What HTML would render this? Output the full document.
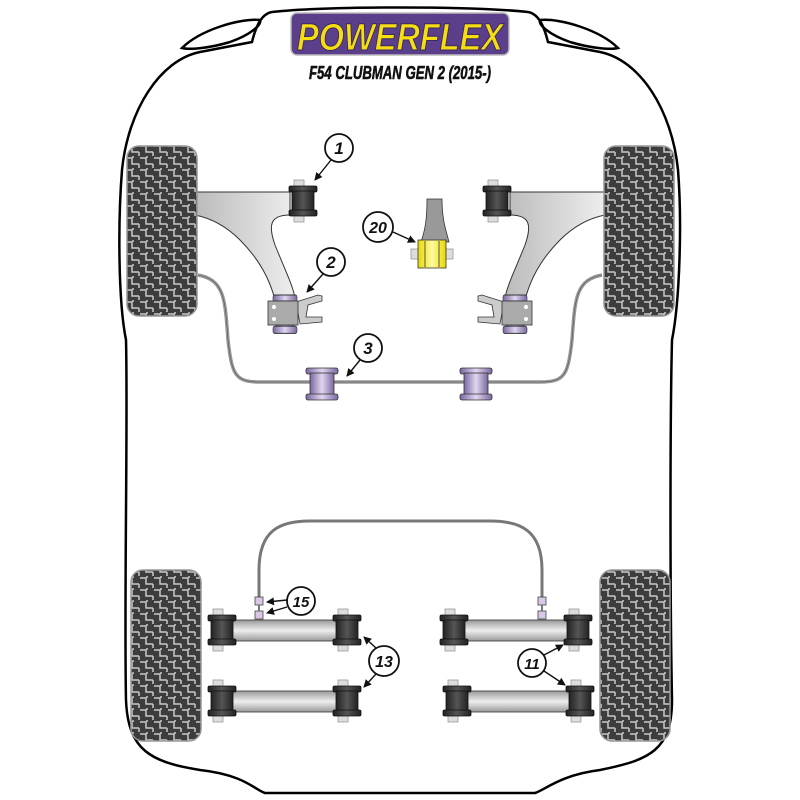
<!DOCTYPE html>
<html><head><meta charset="utf-8"><style>html,body{margin:0;padding:0;background:#fff}svg{display:block}</style></head><body>
<svg width="800" height="800" viewBox="0 0 800 800" xmlns="http://www.w3.org/2000/svg">
<defs>
<pattern id="tread" width="14" height="12" patternUnits="userSpaceOnUse">
<rect width="14" height="12" fill="#3d3d3d"/>
<path d="M0 2 H6 V8 H13" stroke="#c8c8c8" stroke-width="1.5" fill="none"/>
<path d="M7 0 V2 M13 8 V12" stroke="#c8c8c8" stroke-width="1.5" fill="none"/>
</pattern>
<linearGradient id="blk" x1="0" x2="1"><stop offset="0" stop-color="#222"/><stop offset=".5" stop-color="#555"/><stop offset="1" stop-color="#222"/></linearGradient>
<linearGradient id="bar" x1="0" y1="0" x2="0" y2="1"><stop offset="0" stop-color="#999"/><stop offset=".5" stop-color="#eee"/><stop offset="1" stop-color="#999"/></linearGradient>
<linearGradient id="pur" x1="0" x2="1"><stop offset="0" stop-color="#7a68a0"/><stop offset=".5" stop-color="#e0d6f0"/><stop offset="1" stop-color="#7a68a0"/></linearGradient>
<linearGradient id="yel" x1="0" x2="1"><stop offset="0" stop-color="#e8d800"/><stop offset=".5" stop-color="#fffaa0"/><stop offset="1" stop-color="#e8d800"/></linearGradient>
<linearGradient id="arm" x1="0" x2="1"><stop offset="0" stop-color="#bbb"/><stop offset="1" stop-color="#eee"/></linearGradient>
<marker id="ar" markerWidth="8" markerHeight="8" refX="7" refY="4" orient="auto" markerUnits="userSpaceOnUse"><path d="M0 0 L8 4 L0 8 Z" fill="#111"/></marker>
<g id="bush">
<rect x="5" y="-6" width="10" height="42" fill="#ddd" stroke="#999" stroke-width=".8"/>
<rect x="0" y="0" width="28" height="6" rx="1.5" fill="url(#blk)" stroke="#111" stroke-width=".8"/>
<rect x="3" y="5" width="22" height="20" fill="url(#blk)" stroke="#111" stroke-width=".8"/>
<rect x="0" y="24" width="28" height="6" rx="1.5" fill="url(#blk)" stroke="#111" stroke-width=".8"/>
</g>
<g id="pb">
<rect x="0" y="0" width="32" height="6" rx="2" fill="url(#pur)" stroke="#333" stroke-width=".8"/>
<rect x="4" y="5" width="24" height="22" fill="url(#pur)" stroke="#333" stroke-width=".8"/>
<rect x="0" y="26" width="32" height="6" rx="2" fill="url(#pur)" stroke="#333" stroke-width=".8"/>
</g>
</defs>

<path d="M272 12 C330 6 470 6 528 12 C540 14 545 30 548 42 L600 52 C640 60 672 110 678 170 C682 220 680 300 672 340 C670 420 670 600 672 700 C672 750 650 760 600 770 C560 775 545 790 535 793 L265 793 C255 790 245 775 200 770 C150 762 128 750 126 700 C124 600 128 420 126 340 C118 300 118 220 122 170 C128 110 160 60 200 52 L252 42 C255 30 260 14 272 12 Z" fill="none" stroke="#000" stroke-width="2.5"/>
<path d="M182 48 C200 30 240 18 260 20 C262 25 250 35 230 42 C210 48 190 50 182 48 Z" fill="none" stroke="#000" stroke-width="2.5"/>
<path d="M618 48 C600 30 560 18 540 20 C538 25 550 35 570 42 C590 48 610 50 618 48 Z" fill="none" stroke="#000" stroke-width="2.5"/>

<rect x="291" y="13" width="218" height="42" rx="6" fill="#5b3f8a" stroke="#bbb" stroke-width="1.5"/>
<text x="400" y="50" text-anchor="middle" font-family="Liberation Sans, sans-serif" font-weight="bold" font-style="italic" font-size="38" fill="#f5dd10" stroke="#3a2a60" stroke-width="1" textLength="206" lengthAdjust="spacingAndGlyphs">POWERFLEX</text>
<text x="400" y="79" text-anchor="middle" font-family="Liberation Sans, sans-serif" font-weight="bold" font-style="italic" font-size="18" fill="#111" stroke="#111" stroke-width=".6" textLength="182" lengthAdjust="spacingAndGlyphs">F54 CLUBMAN GEN 2 (2015-)</text>

<path d="M198 275 C225 280 225 300 228 340 C232 375 235 382 260 382 L540 382 C565 382 568 375 572 340 C575 300 575 280 602 275" fill="none" stroke="#999" stroke-width="3.5"/>
<path d="M198 275 C225 280 225 300 228 340 C232 375 235 382 260 382 L540 382 C565 382 568 375 572 340 C575 300 575 280 602 275" fill="none" stroke="#555" stroke-width="0.6"/>
<use href="#pb" x="306" y="368"/>
<use href="#pb" x="460" y="368"/>

<path d="M195 192 L290 192 L290 215 C270 215 268 225 275 245 C285 270 295 290 295 300 L275 300 C270 280 260 260 240 240 C225 225 210 218 195 215 Z" fill="url(#arm)" stroke="#333" stroke-width="1"/>
<path d="M605 192 L510 192 L510 215 C530 215 532 225 525 245 C515 270 505 290 505 300 L525 300 C530 280 540 260 560 240 C575 225 590 218 605 215 Z" fill="url(#arm)" stroke="#333" stroke-width="1"/>
<use href="#bush" x="289" y="186"/>
<use href="#bush" x="483" y="186"/>
<path d="M296 302 L318 295 L322 296 L322 301 L308 305 L306 317 L322 317 L322 322 L300 324 Z" fill="#ccc" stroke="#333" stroke-width=".8"/>
<use href="#pb" x="273" y="295" transform="translate(273 295) scale(.75 1.2) translate(-273 -295)"/>
<rect x="268" y="301" width="30" height="24" fill="#aaa" stroke="#333" stroke-width=".8"/>
<circle cx="274" cy="307" r="2" fill="#fff"/><circle cx="274" cy="319" r="2" fill="#fff"/>
<path d="M504 302 L482 295 L478 296 L478 301 L492 305 L494 317 L478 317 L478 322 L500 324 Z" fill="#ccc" stroke="#333" stroke-width=".8"/>
<use href="#pb" x="503" y="295" transform="translate(503 295) scale(.75 1.2) translate(-503 -295)"/>
<rect x="502" y="301" width="30" height="24" fill="#aaa" stroke="#333" stroke-width=".8"/>
<circle cx="526" cy="307" r="2" fill="#fff"/><circle cx="526" cy="319" r="2" fill="#fff"/>

<path d="M427 199 L442 199 C442 220 446 230 449 242 L421 242 C425 230 427 220 427 199 Z" fill="#999" stroke="#333" stroke-width=".8"/>
<rect x="411" y="249" width="42" height="10" fill="#ddd" stroke="#999" stroke-width=".8"/>
<rect x="418" y="240" width="28" height="28" fill="url(#yel)" stroke="#333" stroke-width=".8"/>
<line x1="425" y1="241" x2="425" y2="267" stroke="#333" stroke-width=".8"/><line x1="439" y1="241" x2="439" y2="267" stroke="#333" stroke-width=".8"/>

<rect x="127" y="146" width="70" height="170" rx="12" fill="url(#tread)" stroke="#999" stroke-width="1.5"/>
<rect x="604" y="146" width="70" height="170" rx="12" fill="url(#tread)" stroke="#999" stroke-width="1.5"/>
<rect x="131" y="570" width="70" height="171" rx="12" fill="url(#tread)" stroke="#999" stroke-width="1.5"/>
<rect x="600" y="570" width="70" height="171" rx="12" fill="url(#tread)" stroke="#999" stroke-width="1.5"/>

<path d="M259 600 L259 570 C259 530 280 521 310 521 L490 521 C520 521 542 530 542 570 L542 600" fill="none" stroke="#777" stroke-width="3"/>

<rect x="230" y="620" width="110" height="21" fill="url(#bar)" stroke="#333" stroke-width=".8"/>
<rect x="230" y="691" width="110" height="21" fill="url(#bar)" stroke="#333" stroke-width=".8"/>
<rect x="462" y="620" width="110" height="21" fill="url(#bar)" stroke="#333" stroke-width=".8"/>
<rect x="465" y="691" width="110" height="21" fill="url(#bar)" stroke="#333" stroke-width=".8"/>
<use href="#bush" x="208" y="615"/><use href="#bush" x="333" y="615"/>
<use href="#bush" x="208" y="686"/><use href="#bush" x="333" y="686"/>
<use href="#bush" x="440" y="615"/><use href="#bush" x="564" y="615"/>
<use href="#bush" x="443" y="686"/><use href="#bush" x="566" y="686"/>
<g fill="#d8c8e8" stroke="#444" stroke-width=".8">
<rect x="255" y="597" width="8" height="8"/><rect x="255" y="611" width="8" height="8"/>
<rect x="538" y="597" width="8" height="8"/><rect x="538" y="611" width="8" height="8"/>
</g>
<line x1="259" y1="605" x2="259" y2="611" stroke="#777" stroke-width="2"/>
<line x1="542" y1="605" x2="542" y2="611" stroke="#777" stroke-width="2"/>

<g fill="#fff" stroke="#111" stroke-width="1.8">
<circle cx="339" cy="148" r="14"/><circle cx="331" cy="262" r="14"/><circle cx="368" cy="348" r="14"/>
<circle cx="378" cy="227" r="15"/><circle cx="301" cy="601" r="14"/><circle cx="384" cy="661" r="15"/><circle cx="532" cy="663" r="14"/>
</g>
<g stroke="#111" stroke-width="1.4" marker-end="url(#ar)">
<line x1="331" y1="160" x2="315" y2="180"/>
<line x1="323" y1="274" x2="307" y2="292"/>
<line x1="360" y1="360" x2="347" y2="376"/>
<line x1="393" y1="232" x2="415" y2="242"/>
<line x1="287" y1="600" x2="267" y2="602"/>
<line x1="287" y1="607" x2="267" y2="613"/>
<line x1="376" y1="648" x2="364" y2="637"/>
<line x1="376" y1="674" x2="364" y2="687"/>
<line x1="544" y1="655" x2="563" y2="645"/>
<line x1="544" y1="671" x2="565" y2="685"/>
</g>
<g font-family="Liberation Sans, sans-serif" font-weight="bold" font-style="italic" fill="#111" text-anchor="middle">
<text x="339" y="154" font-size="17">1</text>
<text x="331" y="268" font-size="17">2</text>
<text x="368" y="354" font-size="17">3</text>
<text x="378" y="233" font-size="16">20</text>
<text x="301" y="607" font-size="15">15</text>
<text x="384" y="667" font-size="16">13</text>
<text x="532" y="669" font-size="15">11</text>
</g>
</svg>
</body></html>
